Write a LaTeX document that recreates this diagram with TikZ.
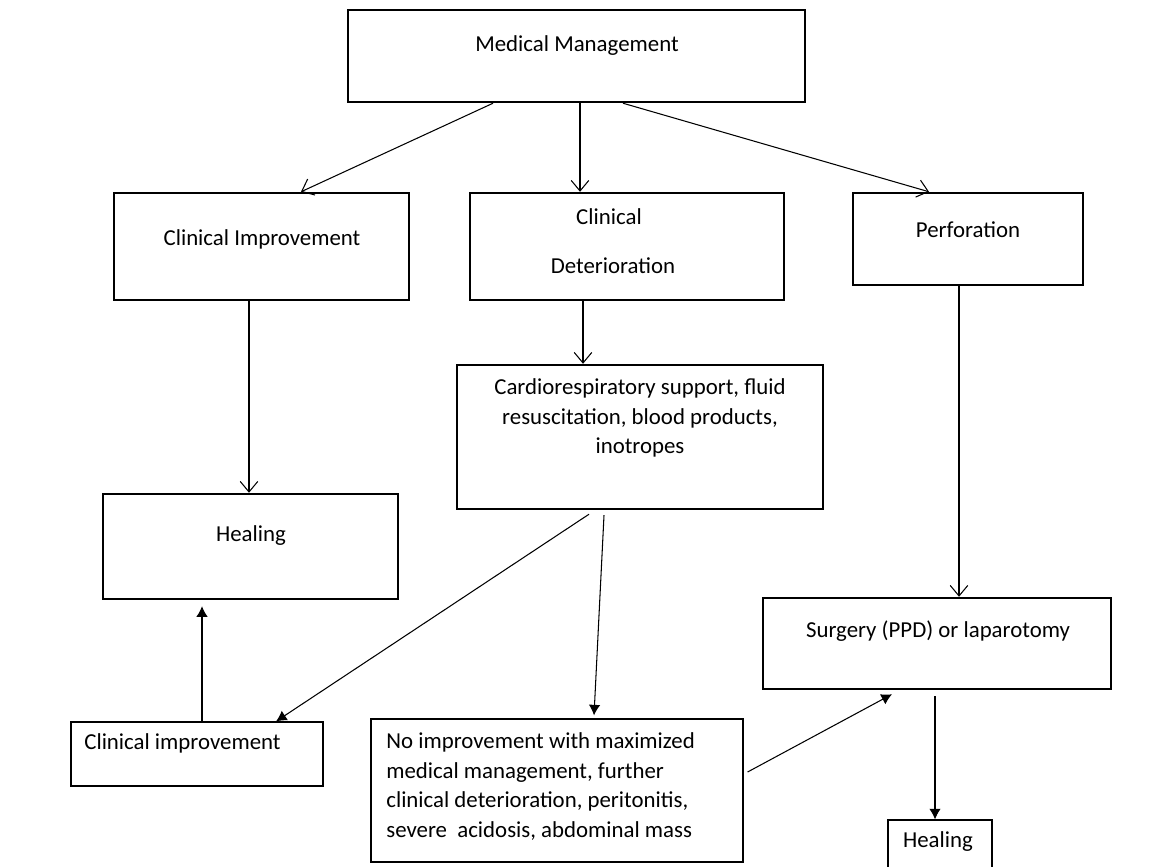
\documentclass[tikz,border=0pt]{standalone}
\usepackage{fontspec}
\setmainfont{Carlito}
\usepackage{tikz}
\usetikzlibrary{positioning,calc,arrows.meta}

\begin{document}
\begin{tikzpicture}[x=0.02cm,y=-0.02cm,
  box/.style={draw,line width=1.4pt,inner sep=0pt},
  thin/.style={draw,line width=0.7pt,inner sep=0pt},
  txt/.style={inner sep=0pt,font=\fontsize{13}{17}\selectfont},
  opn/.style={-{Straight Barb[length=6pt,width=10pt]},line width=0.6pt},
  fil/.style={-{Latex[length=6pt,width=6.5pt]},line width=0.6pt}]
\useasboundingbox (0,0) rectangle (1165,866);
\node[box,minimum width=9.14cm,minimum height=1.84cm] (mm) at (576.5,56) {};
\node[box,minimum width=5.9cm,minimum height=2.14cm] (ci) at (261.5,246.5) {};
\node[box,minimum width=6.28cm,minimum height=2.14cm] (cd) at (627,246.5) {};
\node[box,minimum width=4.6cm,minimum height=1.84cm] (perf) at (968,239) {};
\node[box,minimum width=7.32cm,minimum height=2.88cm] (cardio) at (640,437) {};
\node[box,minimum width=5.9cm,minimum height=2.1cm] (heal) at (250.5,546.5) {};
\node[box,minimum width=6.96cm,minimum height=1.82cm] (surg) at (937,643.5) {};
\node[thin,minimum width=5.04cm,minimum height=1.28cm] (ci2) at (197,754) {};
\node[thin,minimum width=7.44cm,minimum height=2.86cm] (noimp) at (557,790.5) {};
\node[thin,minimum width=2.08cm,minimum height=1.2cm] (heal2) at (940,850) {};
%
\node[txt] (mmt) at (577,46) {Medical Management};
\node[txt] (cit) at (262,239) {Clinical Improvement};
\node[txt] (cdt1) at (609,217) {Clinical};
\node[txt] (cdt2) at (613,266) {Deterioration};
\node[txt] (perft) at (968,230) {Perforation};
\node[txt,align=center] (cardiot) at (640,418) {Cardiorespiratory support, fluid\\resuscitation, blood products,\\inotropes};
\node[txt] (healt) at (251,536) {Healing};
\node[txt] (surgt) at (938,631) {Surgery (PPD) or laparotomy};
\node[txt,anchor=west] (ci2t) at (84,743) {Clinical improvement};
\node[txt,anchor=west,align=left] (noimpt) at (386,786.5) {No improvement with maximized\\medical management, further\\clinical deterioration, peritonitis,\\severe\ \ acidosis, abdominal mass};
\node[txt] (heal2t) at (938,842) {Healing};
%
\draw[opn] ($(mm.south)+(-83.5,0)$) -- ($(ci.north)+(39.5,0)$);
\draw[opn] ($(mm.south)+(3.5,0)$) coordinate (a) -- (a |- cd.north);
\draw[opn] ($(mm.south)+(46.5,0)$) -- ($(perf.north)+(-39,0)$);
\draw[opn] ($(ci.south)+(-12.5,0)$) coordinate (b) -- (b |- heal.north);
\draw[opn] ($(cd.south)+(-44,0)$) coordinate (c) -- (c |- cardio.north);
\draw[opn] ($(perf.south)+(-9,0)$) coordinate (d) -- (d |- surg.north);
\draw[fil] ($(cardio.south)+(-51,4)$) -- ($(ci2.north)+(79,0)$);
\draw[fil] ($(cardio.south)+(-36,5)$) -- ($(noimp.north)+(37,-3)$);
\draw[fil] ($(ci2.north)+(5,0)$) -- ($(heal.south)+(-48.5,6)$);
\draw[fil] ($(noimp.east)+(4,-18.5)$) -- ($(surg.south)+(-45,4)$);
\draw[fil] ($(surg.south)+(-2,6)$) coordinate (e) -- (e |- heal2.north);
\end{tikzpicture}
\end{document}
